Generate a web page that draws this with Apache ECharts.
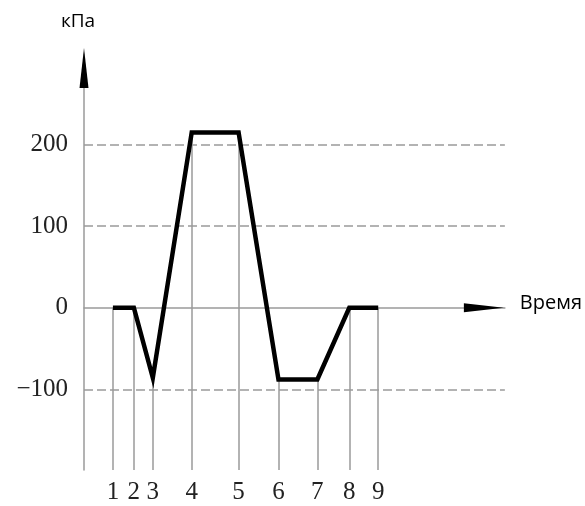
<!DOCTYPE html>
<html>
<head>
<meta charset="utf-8">
<script src="https://cdn.jsdelivr.net/npm/echarts@6/dist/echarts.min.js"></script>
<style>html,body{margin:0;padding:0;background:#fff;}#c{width:585px;height:506px;}</style>
</head>
<body>
<div id="c"></div>
<script>
// time positions of the numbered moments (horizontal axis units)
var timeValues = [29, 50, 69, 108, 155, 195, 234, 266, 295];
var timeLabels = ['1', '2', '3', '4', '5', '6', '7', '8', '9'];
// pressure, kPa
var pressureValues = [0, 0, -86, 215, 215, -88, -88, 0, 0];
var yTickValues = [200, 100, 0, -100];
var gridValues = [200, 100, -100];
var yMin = -199, yMax = 294, xMin = 0, xMax = 422;

var chart = echarts.init(document.getElementById('c'), null, {renderer: 'canvas'});

var lineData = timeValues.map(function (t, i) { return [t, pressureValues[i]]; });
var dropLines = timeValues.map(function (t, i) {
  return [{coord: [t, pressureValues[i]]}, {coord: [t, yMin]}];
});
var gridLines = gridValues.map(function (v) { return {yAxis: v}; });

var grey = '#9a9a9a';
chart.setOption({
  animation: false,
  grid: {left: 84, right: 79, top: 68, bottom: 36},
  xAxis: [{
    type: 'value', min: xMin, max: xMax, position: 'bottom',
    axisLine: {show: false, onZero: false},
    axisTick: {show: false},
    splitLine: {show: false},
    axisLabel: {
      customValues: timeValues,
      formatter: function (v) { return timeLabels[timeValues.indexOf(v)]; },
      fontFamily: 'Liberation Serif', fontSize: 25, color: '#222', margin: 10
    }
  }, {
    type: 'value', min: xMin, max: xMax, position: 'top',
    name: 'Время', nameLocation: 'end', nameGap: 15,
    nameTextStyle: {fontFamily: 'Open Sans', fontSize: 20, color: '#000', verticalAlign: 'bottom', padding: [0, 0, -6, 0]},
    axisLine: {show: true, onZero: true, lineStyle: {color: grey, width: 1.5}},
    axisTick: {show: false},
    axisLabel: {show: false},
    splitLine: {show: false}
  }],
  yAxis: {
    type: 'value', min: yMin, max: yMax,
    name: 'кПа', nameLocation: 'end', nameGap: 37,
    nameTextStyle: {fontFamily: 'Open Sans', fontSize: 19, color: '#000', align: 'center', padding: [0, 0, 0, -12]},
    axisLine: {show: true, lineStyle: {color: grey, width: 1.5}},
    axisTick: {show: false},
    splitLine: {show: false},
    axisLabel: {
      customValues: yTickValues,
      formatter: function (v) { return v < 0 ? '\u2212' + Math.abs(v) : String(v); },
      fontFamily: 'Liberation Serif', fontSize: 25, color: '#222', margin: 16
    }
  },
  series: [{
    type: 'line', data: [], z: 1, silent: true,
    markLine: {
      silent: true, symbol: 'none', label: {show: false},
      lineStyle: {color: grey, width: 1.5, type: 'solid'},
      data: dropLines
    }
  }, {
    type: 'line', data: [], z: 1, silent: true,
    markLine: {
      silent: true, symbol: 'none', label: {show: false},
      lineStyle: {color: grey, width: 1.5, type: [9, 4]},
      data: gridLines
    },
    markPoint: {
      silent: true, label: {show: false},
      itemStyle: {color: '#000'},
      data: [
        {coord: [xMin, yMax], symbol: 'triangle', symbolSize: [9, 40]},
        {coord: [xMax, 0], symbol: 'triangle', symbolSize: [9, 40], symbolRotate: -90, symbolOffset: [-21, 0]}
      ]
    }
  }, {
    type: 'line', data: lineData, z: 5, symbol: 'none',
    lineStyle: {color: '#000', width: 4.5, join: 'miter', cap: 'butt'}
  }]
});
</script>
</body>
</html>
